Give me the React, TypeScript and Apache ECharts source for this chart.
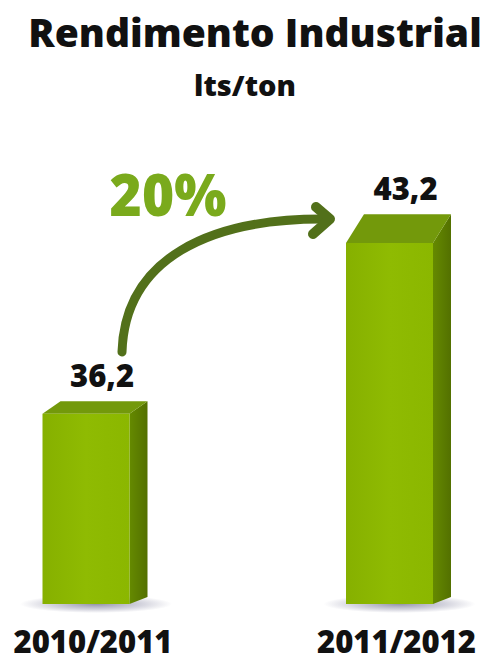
import React, { useEffect, useRef } from "react";
import * as echarts from "echarts";

const categories = ["2010/2011", "2011/2012"];
const values = [36.2, 43.2];
const titleText = "Rendimento Industrial";
const subtitleText = "lts/ton";
const growthText = "20%";

const Y_MIN = 28.4;
const Y_MAX = 45;

const OPEN = '"Open Sans", "Noto Sans", sans-serif';
const NARROW_NAME = "Liberation Sans Narrow";

function hasFont(name: string): boolean {
  try {
    const c = document.createElement("canvas").getContext("2d");
    if (!c) return false;
    const s = "Rendimento 2010/2011 lts";
    c.font = "bold 40px monospace";
    const a = c.measureText(s).width;
    c.font = `bold 40px "${name}", monospace`;
    const b = c.measureText(s).width;
    return Math.abs(a - b) > 1;
  } catch (e) {
    return false;
  }
}

function txt(x: number, y: number, text: string, size: number, color: string, family: string, weight: any = 800, scaleX = 1) {
  return {
    type: "text",
    x,
    y,
    scaleX,
    style: {
      text,
      x: 0,
      y: 0,
      fontSize: size,
      fontWeight: weight,
      fontFamily: family,
      fill: color,
      align: "center",
      verticalAlign: "middle",
      textAlign: "center",
      textVerticalAlign: "middle",
    },
  };
}

export default function App() {
  const ref = useRef<HTMLDivElement>(null);
  useEffect(() => {
    const chart = echarts.init(ref.current!, null, { renderer: "svg" });
    const narrow = hasFont(NARROW_NAME);
    const NF = `"${NARROW_NAME}", ${OPEN}`;

    const renderItem = (params: any, api: any) => {
      const idx = api.value(0);
      const v = api.value(1);
      const top = api.coord([idx, v]);
      const base = api.coord([idx, Y_MIN]);
      const cx = top[0] - 9;
      const w = 87;
      const fl = cx - w / 2;
      const fr = cx + w / 2;
      const yT = top[1];
      const yB = base[1];
      const dx = 18;
      const dyT = 12.5 + (414 - yT) * 0.095;
      const dyB = 7;
      const label = v.toFixed(1).replace(".", ",");
      return {
        type: "group",
        children: [
          {
            type: "ellipse",
            shape: { cx: cx + 10, cy: yB, rx: 76, ry: 9 },
            style: {
              fill: new echarts.graphic.RadialGradient(0.5, 0.5, 0.5, [
                { offset: 0, color: "rgba(60,60,100,0.55)" },
                { offset: 0.6, color: "rgba(80,80,120,0.25)" },
                { offset: 1, color: "rgba(80,80,120,0)" },
              ]),
            },
          },
          {
            type: "polygon",
            shape: { points: [[fr, yT], [fr + dx, yT - dyT], [fr + dx, yB - dyB], [fr, yB]] },
            style: {
              fill: new echarts.graphic.LinearGradient(0, 0, 1, 0, [
                { offset: 0, color: "#658a00" },
                { offset: 1, color: "#537000" },
              ]),
            },
          },
          {
            type: "polygon",
            shape: { points: [[fl, yT], [fl + dx, yT - dyT], [fr + dx, yT - dyT], [fr, yT]] },
            style: { fill: "#73990b" },
          },
          {
            type: "rect",
            shape: { x: fl, y: yT, width: w, height: yB - yT },
            style: {
              fill: new echarts.graphic.LinearGradient(0, 0, 1, 0, [
                { offset: 0, color: "#86b000" },
                { offset: 0.5, color: "#8fbb02" },
                { offset: 1, color: "#8bb700" },
              ]),
            },
          },
          txt(top[0] + 7, yT - dyT - 26, label, 31, "#111111", OPEN),
          narrow
            ? txt(top[0] - 2, 642, categories[idx], 40, "#111111", NF, "bold")
            : txt(top[0] - 2, 641, categories[idx], 31, "#111111", OPEN),
        ],
      };
    };

    chart.setOption({
      animation: false,
      grid: { left: 95, right: 87.5, top: 199, bottom: 59 },
      xAxis: {
        type: "category",
        data: categories,
        boundaryGap: false,
        axisLine: { show: false },
        axisTick: { show: false },
        axisLabel: { show: false },
        splitLine: { show: false },
      },
      yAxis: { type: "value", min: Y_MIN, max: Y_MAX, show: false },
      series: [
        {
          type: "custom",
          renderItem,
          clip: false,
          encode: { x: 0, y: 1 },
          data: values.map((v, i) => [i, v]),
        },
      ],
      graphic: [
        narrow
          ? txt(255, 33, titleText, 52, "#111111", NF, "bold")
          : txt(255, 31, titleText, 39, "#111111", OPEN),
        narrow
          ? txt(245, 85, subtitleText, 40, "#111111", NF, "bold")
          : txt(245, 84.5, subtitleText, 29, "#111111", OPEN),
        txt(168, 194, growthText, 58, "#7aaa1c", OPEN, 800, 0.95),
        {
          type: "bezierCurve",
          shape: { x1: 122, y1: 352, cpx1: 125, cpy1: 258, cpx2: 210, cpy2: 219, x2: 322, y2: 219 },
          style: { stroke: "#52701a", lineWidth: 9, fill: "none", lineCap: "round" },
        },
        {
          type: "polyline",
          shape: { points: [[316, 207], [330, 219], [313, 234]] },
          style: { stroke: "#52701a", lineWidth: 10, fill: "none", lineCap: "round", lineJoin: "round" },
        },
      ],
    });
    return () => chart.dispose();
  }, []);
  return (
    <div
      ref={ref}
      style={{ position: "absolute", left: 0, top: 0, width: 486, height: 663, background: "#ffffff" }}
    />
  );
}
